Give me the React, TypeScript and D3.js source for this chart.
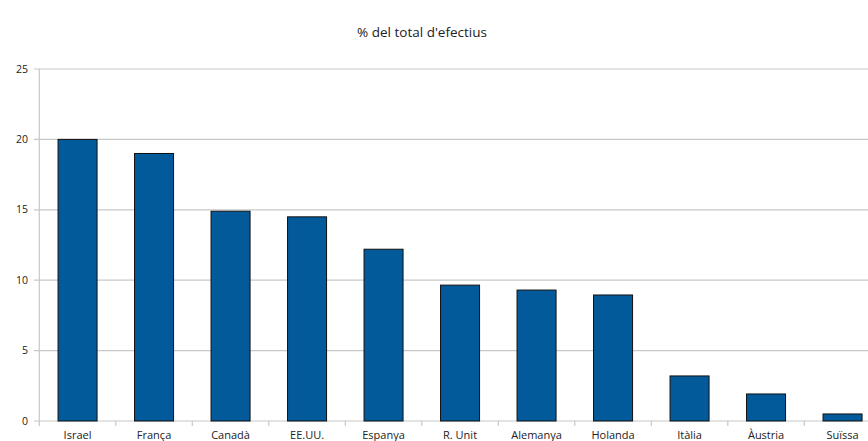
import React from "react";
import * as d3 from "d3";

const categories = ["Israel", "França", "Canadà", "EE.UU.", "Espanya", "R. Unit", "Alemanya", "Holanda", "Itàlia", "Àustria", "Suïssa"];
const values = [20.0, 19.0, 14.9, 14.5, 12.2, 9.65, 9.3, 8.95, 3.2, 1.92, 0.5];
const yTicks = [0, 5, 10, 15, 20, 25];
const title = "% del total d'efectius";

export default function App() {
  const W = 868, H = 441;
  const left = 39.3, bandW = 76.5;
  const x = d3.scaleBand<string>().domain(categories).range([left, left + bandW * categories.length]).paddingInner(0.49).paddingOuter(0.245);
  const y = d3.scaleLinear().domain([0, 25]).range([421, 69]);
  const font = "'Open Sans', 'DejaVu Sans', sans-serif";
  const right = left + bandW * categories.length;
  return (
    <svg width={W} height={H} style={{ position: "absolute", left: 0, top: 0, background: "#fff" }} fontFamily={font}>
      <text x={422} y={37} textAnchor="middle" fontSize={13.5} fill="#222">{title}</text>
      {yTicks.map((t) => (
        <g key={t}>
          <line x1={34} x2={right} y1={y(t)} y2={y(t)} stroke="#c8c8c8" strokeWidth={1.2} />
          <text x={28} y={y(t)} dy="0.35em" textAnchor="end" fontSize={10.5} fill="#222">{t}</text>
        </g>
      ))}
      <line x1={left} x2={left} y1={y(25)} y2={y(0)} stroke="#c8c8c8" strokeWidth={1.2} />
      {categories.map((c, i) => (
        <line key={"t" + i} x1={left + bandW * i} x2={left + bandW * i} y1={y(0)} y2={y(0) + 5} stroke="#c8c8c8" strokeWidth={1.2} />
      ))}
      {categories.map((c, i) => (
        <rect key={c} x={x(c)!} y={y(values[i])} width={x.bandwidth()} height={y(0) - y(values[i])} fill="#035a9a" stroke="#111" strokeWidth={1} />
      ))}
      {categories.map((c) => (
        <text key={"l" + c} x={x(c)! + x.bandwidth() / 2} y={439} textAnchor="middle" fontSize={11} fill="#222">{c}</text>
      ))}
    </svg>
  );
}
